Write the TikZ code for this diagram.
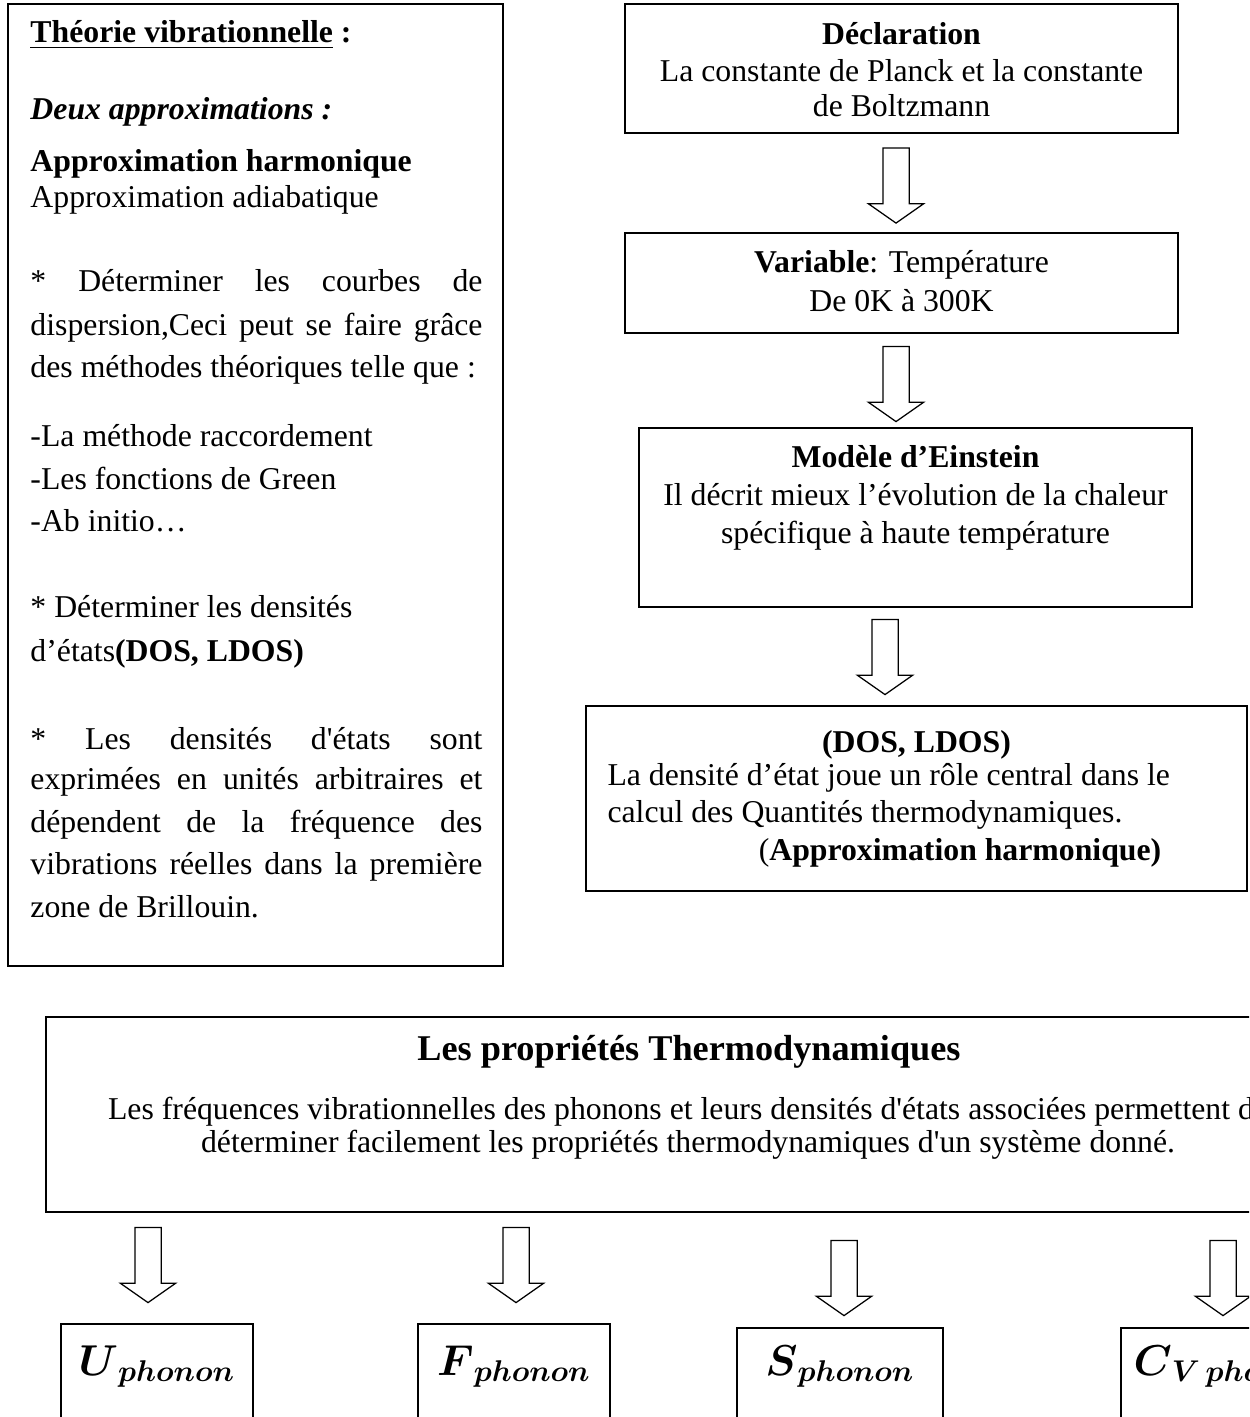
\documentclass[tikz,border=0pt]{standalone}
\usepackage{amsmath}
\usepackage{fontspec}
\setmainfont{Liberation Serif}
\usetikzlibrary{shapes.arrows}
\newcommand\bodyfont{\fontsize{12.7}{15}\selectfont}
\newcommand\headfont{\fontsize{14.5}{17}\selectfont\bfseries}
\newcommand\symfont{\fontsize{16.5}{19}\selectfont}
\newcommand\phsub[1]{_{\text{\fontsize{12.5}{14}\selectfont$\boldsymbol{#1}$}}}
\tikzset{
  box/.style={draw, rectangle, line width=0.7pt, inner sep=0pt},
  txt/.style={inner sep=0pt, font=\bodyfont},
  sym/.style={inner sep=0pt, font=\symfont, anchor=base},
  blk/.style={single arrow, draw, line width=0.5pt, rotate=-90, inner xsep=0pt, inner ysep=5pt,
    single arrow head extend=5.8pt, single arrow tip angle=110,
    minimum height=30pt, minimum width=21.6pt},
}
\newcommand\jline[1]{\makebox[180.8pt][s]{#1}}
\begin{document}
\begin{tikzpicture}[x=0.4pt,y=-0.4pt]
\useasboundingbox (0,0) rectangle (1249,1417);
\clip (0,0) rectangle (1249,1417);

% ---------- boxes ----------
\node[box, minimum width=198pt, minimum height=384.8pt] (left) at (255.5,485) {};
\node[box, minimum width=221.2pt, minimum height=51.6pt] (decl) at (901.5,68.5) {};
\node[box, minimum width=221.2pt, minimum height=40pt] (var) at (901.5,283) {};
\node[box, minimum width=221.2pt, minimum height=71.6pt] (ein) at (915.5,517.5) {};
\node[box, minimum width=264.4pt, minimum height=74pt] (dos) at (916.5,798.5) {};
\node[box, minimum width=501.6pt, minimum height=78pt] (thermo) at (673,1114.5) {};
\node[box, minimum width=76.8pt, minimum height=46.4pt] (ubox) at (157,1382) {};
\node[box, minimum width=76.8pt, minimum height=46.4pt] (fbox) at (514,1382) {};
\node[box, minimum width=82.4pt, minimum height=44.8pt] (sbox) at (840,1384) {};
\node[box, minimum width=87.6pt, minimum height=44.8pt] (cbox) at (1230.5,1384) {};

% ---------- block arrows ----------
\node[blk] (a1) at (896,181) {};
\node[blk] (a2) at (896,379.5) {};
\node[blk] (a3) at (885,652.5) {};
\node[blk] (b1) at (148,1260.5) {};
\node[blk] (b2) at (516,1260.5) {};
\node[blk] (b3) at (844,1273.5) {};
\node[blk] (b4) at (1223,1273.5) {};

% ---------- left column text ----------
\node[txt, anchor=base west] (l1) at (30,43) {\textbf{\underline{Théorie vibrationnelle} :}};
\node[txt, anchor=base west] (l2) at (30,120) {\textbf{\textit{Deux approximations :}}};
\node[txt, anchor=base west] (l3) at (30,172) {\textbf{Approximation harmonique}};
\node[txt, anchor=base west] (l4) at (30,208) {Approximation adiabatique};
\node[txt, anchor=base west] (l5) at (30,292) {\jline{* Déterminer les courbes de}};
\node[txt, anchor=base west] (l6) at (30,336) {\jline{dispersion,Ceci peut se faire grâce}};
\node[txt, anchor=base west] (l7) at (30,378) {des méthodes théoriques telle que :};
\node[txt, anchor=base west] (l8) at (30,447) {-La méthode raccordement};
\node[txt, anchor=base west] (l9) at (30,489) {-Les fonctions de Green};
\node[txt, anchor=base west] (l10) at (30,531) {-Ab initio…};
\node[txt, anchor=base west] (l11) at (30,617) {* Déterminer les densités};
\node[txt, anchor=base west] (l12) at (30,661) {d’états\textbf{(DOS, LDOS)}};
\node[txt, anchor=base west] (l13) at (30,749) {\jline{* Les densités d\textquotesingle états sont}};
\node[txt, anchor=base west] (l14) at (30,789) {\jline{exprimées en unités arbitraires et}};
\node[txt, anchor=base west] (l15) at (30,832) {\jline{dépendent de la fréquence des}};
\node[txt, anchor=base west] (l16) at (30,874) {\jline{vibrations réelles dans la première}};
\node[txt, anchor=base west] (l17) at (30,917) {zone de Brillouin.};

% ---------- right column text ----------
\node[txt, anchor=base] (d1) at (901.5,45) {\textbf{Déclaration}};
\node[txt, anchor=base] (d2) at (901.5,82) {La constante de Planck et la constante};
\node[txt, anchor=base] (d3) at (901.5,117) {de Boltzmann};
\node[txt, anchor=base] (v1) at (901.5,273) {\textbf{Variable}: Température};
\node[txt, anchor=base] (v2) at (901.5,312) {De 0K à 300K};
\node[txt, anchor=base] (e1) at (915.5,468) {\textbf{Modèle d’Einstein}};
\node[txt, anchor=base] (e2) at (915.5,506) {Il décrit mieux l’évolution de la chaleur};
\node[txt, anchor=base] (e3) at (915.5,543) {spécifique à haute température};
\node[txt, anchor=base] (o1) at (916.5,752) {\textbf{(DOS, LDOS)}};
\node[txt, anchor=base west] (o2) at (607,785) {La densité d’état joue un rôle central dans le};
\node[txt, anchor=base west] (o3) at (607,822) {calcul des Quantités thermodynamiques.};
\node[txt, anchor=base] (o4) at (960,860) {(\textbf{Approximation harmonique)}};

% ---------- thermodynamic box text ----------
\node[inner sep=0pt, font=\headfont, anchor=base] (t1) at (689,1060) {Les propriétés Thermodynamiques};
\node[txt, anchor=base] (t2) at (688,1119) {Les fréquences vibrationnelles des phonons et leurs densités d\textquotesingle états associées permettent de};
\node[txt, anchor=base] (t3) at (688,1152) {déterminer facilement les propriétés thermodynamiques d\textquotesingle un système donné.};

% ---------- bottom labels ----------
\node[sym] (ul) at (157,1375) {$\boldsymbol{U}\phsub{phonon}$};
\node[sym] (fl) at (514,1375) {$\boldsymbol{F}\phsub{phonon}$};
\node[sym] (sl) at (840,1375) {$\boldsymbol{S}\phsub{phonon}$};
\node[sym, anchor=base west] (cl) at (1133,1375) {$\boldsymbol{C}\phsub{V\,phonon}$};
\end{tikzpicture}
\end{document}
